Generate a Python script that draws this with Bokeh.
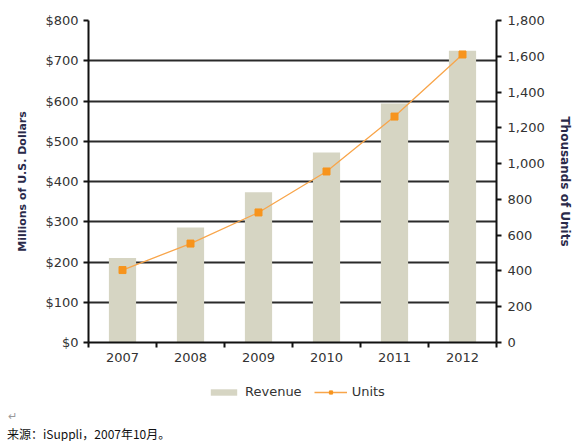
from bokeh.plotting import figure
from bokeh.models import (Range1d, LinearAxis, FixedTicker, NumeralTickFormatter,
                          Legend, LegendItem, ColumnDataSource, Div)
from bokeh.layouts import column
from bokeh.embed import file_html
from bokeh.resources import INLINE

# Revenue (millions of USD) and unit shipments (thousands) per year
years = ["2007", "2008", "2009", "2010", "2011", "2012"]
revenue = [210, 286, 373, 472, 594, 725]
units = [405, 553, 727, 956, 1263, 1610]
source_note = "来源：iSuppli，2007年10月。"

positions = [i + 0.5 for i in range(len(years))]
src = ColumnDataSource(dict(x=positions, revenue=revenue, units=units))

TICK_FONT = "DejaVu Sans"
TEXT_COLOR = "#333333"
BAR_COLOR = "#d6d5c3"
LINE_COLOR = "#f8a54a"
MARKER_COLOR = "#f7941d"

p = figure(width=580, height=372, output_backend="svg", toolbar_location=None,
           x_range=Range1d(0, len(years)), y_range=Range1d(0, 800),
           min_border_left=88, min_border_right=84, min_border_top=20,
           min_border_bottom=30)
p.outline_line_color = None
p.background_fill_color = "white"
p.border_fill_color = "white"

# gridlines at every $100
p.xgrid.visible = False
p.ygrid.ticker = FixedTicker(ticks=list(range(0, 801, 100)))
p.ygrid.grid_line_color = "#2a2a2a"
p.ygrid.grid_line_width = 2

# bars for revenue
p.vbar(x="x", top="revenue", width=0.4, source=src,
       fill_color=BAR_COLOR, line_color=None)

# units on the secondary axis
p.extra_y_ranges = {"units": Range1d(0, 1800)}
p.line(x="x", y="units", source=src, y_range_name="units",
       line_color=LINE_COLOR, line_width=1.3)
p.scatter(x="x", y="units", source=src, y_range_name="units",
          marker="square", size=7, fill_color=MARKER_COLOR, line_color=MARKER_COLOR)

# x axis: year labels at bar centres, tick marks between categories
xa = p.xaxis[0]
xa.ticker = FixedTicker(ticks=positions, minor_ticks=list(range(0, len(years) + 1)))
xa.major_label_overrides = {pos: y for pos, y in zip(positions, years)}
xa.major_tick_out = 0
xa.major_tick_in = 0
xa.minor_tick_out = 5
xa.minor_tick_in = 0
xa.minor_tick_line_color = "#111111"
xa.minor_tick_line_width = 2
xa.axis_line_color = "#111111"
xa.axis_line_width = 2
xa.major_label_text_font = TICK_FONT
xa.major_label_text_font_size = "13px"
xa.major_label_text_color = TEXT_COLOR
xa.major_label_standoff = 5

# left axis: revenue
ya = p.yaxis[0]
ya.ticker = FixedTicker(ticks=list(range(0, 801, 100)))
ya.formatter = NumeralTickFormatter(format="$0")
ya.axis_label = "Millions of U.S. Dollars"
ya.axis_label_text_font = TICK_FONT
ya.axis_label_text_font_size = "11px"
ya.axis_label_text_font_style = "bold"
ya.axis_label_text_color = "#2a2a4a"
ya.axis_label_standoff = 13
ya.major_label_text_font = TICK_FONT
ya.major_label_text_font_size = "13px"
ya.major_label_text_color = TEXT_COLOR
ya.major_label_standoff = 5
ya.major_tick_out = 5
ya.major_tick_in = 0
ya.minor_tick_line_color = None
ya.major_tick_line_color = "#111111"
ya.major_tick_line_width = 2
ya.axis_line_color = "#111111"
ya.axis_line_width = 2

# right axis: units
ra = LinearAxis(y_range_name="units", ticker=FixedTicker(ticks=list(range(0, 1801, 200))),
                formatter=NumeralTickFormatter(format="0,0"))
ra.axis_label = "Thousands of Units"
ra.axis_label_text_font = TICK_FONT
ra.axis_label_text_font_size = "12px"
ra.axis_label_text_font_style = "bold"
ra.axis_label_text_color = "#2a2a4a"
ra.axis_label_standoff = 10
ra.major_label_text_font = TICK_FONT
ra.major_label_text_font_size = "13px"
ra.major_label_text_color = TEXT_COLOR
ra.major_label_standoff = 6
ra.major_tick_out = 5
ra.major_tick_in = 0
ra.minor_tick_line_color = None
ra.major_tick_line_color = "#111111"
ra.major_tick_line_width = 2
ra.axis_line_color = "#111111"
ra.axis_line_width = 2
p.add_layout(ra, "right")

# legend strip under the chart; its sample renderers hold no drawable points
nan = float("nan")
lg = figure(width=580, height=32, output_backend="svg", toolbar_location=None,
            x_range=Range1d(0, 1), y_range=Range1d(0, 1),
            x_axis_type=None, y_axis_type=None, min_border=0)
lg.outline_line_color = None
lg.background_fill_color = "white"
lg.border_fill_color = "white"
lg.xgrid.visible = False
lg.ygrid.visible = False
placeholder = ColumnDataSource(dict(x=[nan, nan], y=[nan, nan]))
rb = lg.vbar(x="x", top="y", width=0.4, source=placeholder, fill_color=BAR_COLOR, line_color=None)
rl = lg.line(x="x", y="y", source=placeholder, line_color=LINE_COLOR, line_width=1.3)
rm = lg.scatter(x="x", y="y", source=placeholder, marker="square", size=6,
                fill_color=MARKER_COLOR, line_color=MARKER_COLOR)
legend = Legend(items=[LegendItem(label="Revenue", renderers=[rb]),
                       LegendItem(label="Units", renderers=[rl, rm])],
                orientation="horizontal", location=(119, 5),
                padding=0, margin=0, spacing=12, label_standoff=5,
                glyph_width=33, glyph_height=8,
                border_line_color=None, background_fill_alpha=0,
                label_text_font=TICK_FONT, label_text_font_size="13px",
                label_text_color=TEXT_COLOR)
lg.add_layout(legend, "center")

note = Div(text=(
    '<div style="font-family:\'Noto Sans CJK SC\';margin:0;padding:0;">'
    '<div style="height:12px;line-height:12px;font-size:11px;color:#999;padding-left:3px;">&#8629;</div>'
    '<div style="height:25px;line-height:25px;font-size:12px;color:#111;padding-left:2px;">'
    + source_note + '</div></div>'),
    width=580, height=37)

layout = column(p, lg, note, spacing=0)
open("out.html", "w").write(file_html(layout, INLINE))
